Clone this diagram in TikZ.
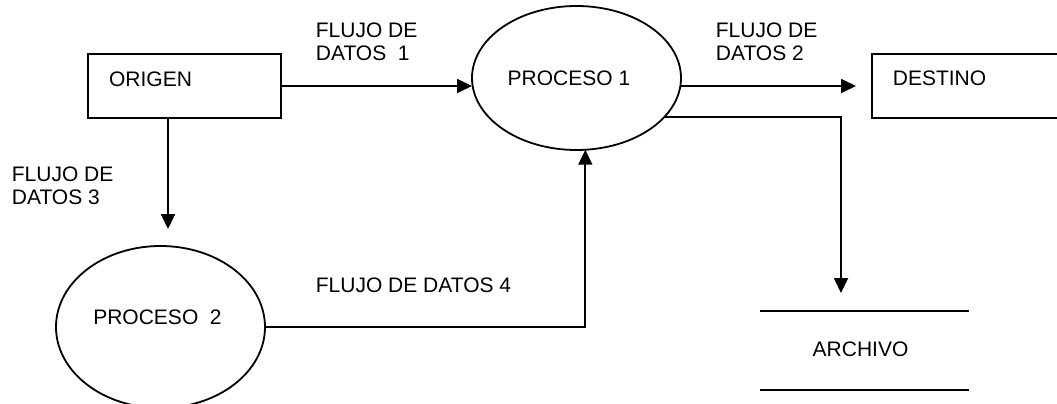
\documentclass[tikz,border=0pt]{standalone}
\usepackage{fontspec}
\setmainfont{Liberation Sans}
\usetikzlibrary{shapes.geometric,arrows.meta}
\newcommand\offtext[3]{\raisebox{#2}[0pt][0pt]{\makebox[0pt]{\kern#1\relax #3\kern-#1\relax}}}
\begin{document}
\begin{tikzpicture}[x=1pt,y=-1pt,
  font=\fontsize{21}{23}\selectfont,
  line width=1.8pt,
  box/.style={draw, rectangle, inner sep=0pt, outer sep=0pt},
  proc/.style={draw, ellipse, inner sep=0pt, outer sep=0pt, minimum width=209pt},
  store/.style={rectangle, inner sep=0pt, outer sep=0pt},
  lbl/.style={anchor=west, align=left, inner sep=0pt},
  arr/.style={-{Triangle[length=15pt,width=14pt]}}]
\useasboundingbox (0,0) rectangle (1057,404);
\fill[white] (0,0) rectangle (1057,404);
\clip (0,0) rectangle (1057,404);

\node[box, minimum width=193pt, minimum height=64pt] (origen) at (184.5,86) {\offtext{-34pt}{-0.5pt}{ORIGEN}};
\node[box, minimum width=193pt, minimum height=64pt] (destino) at (968.5,86) {\offtext{-29pt}{1pt}{DESTINO}};
\node[proc, minimum height=144pt] (p1) at (576.5,78) {\offtext{-7.5pt}{-7pt}{PROCESO 1}};
\node[proc, minimum height=162pt] (p2) at (160.5,327) {\offtext{-3pt}{2.5pt}{PROCESO\ \ 2}};
\node[store, minimum width=209pt, minimum height=79pt] (archivo) at (864.5,350.5) {\offtext{-4pt}{-6pt}{ARCHIVO}};
\draw (archivo.north west) -- (archivo.north east)
      (archivo.south west) -- (archivo.south east);

\coordinate (p2in) at (168,229);
\coordinate (arin) at (841,293);

\draw[arr] (origen.east) -- (origen.east -| p1.west);
\draw[arr] (destino.west -| p1.east) -- ([xshift=-16pt]destino.west);
\draw[arr] (p1.-24.7) -| (arin);
\draw[arr] (origen.south -| p2in) -- (p2in);
\draw[arr] (p2.east) -| (p1.-83.2);

\node[lbl] (f1) at (315,41.5) {FLUJO DE\\DATOS\ \ 1};
\node[lbl] (f2) at (715,41.5) {FLUJO DE\\DATOS 2};
\node[lbl] (f3) at (11,185.5) {FLUJO DE\\DATOS 3};
\node[lbl] (f4) at (315,285) {FLUJO DE DATOS 4};
\end{tikzpicture}
\end{document}
